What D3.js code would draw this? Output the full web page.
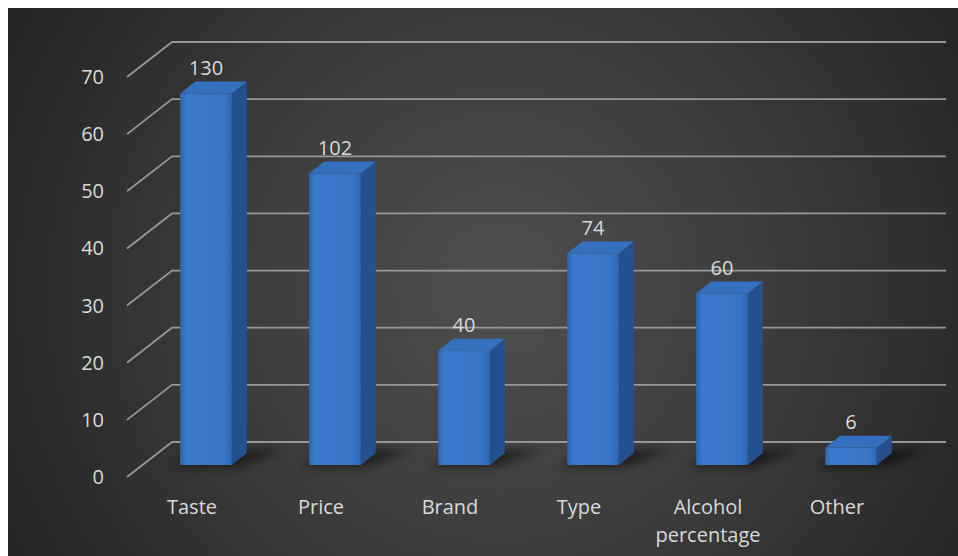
<!DOCTYPE html>
<html>
<head>
<meta charset="utf-8">
<script src="https://cdn.jsdelivr.net/npm/d3@7"></script>
<style>
  html, body { margin: 0; padding: 0; background: #fff; }
  svg { display: block; }
</style>
</head>
<body>
<svg id="chart" width="958" height="556"></svg>
<script>
// ---- data ----
const categories = ["Taste", "Price", "Brand", "Type", "Alcohol percentage", "Other"];
const barHeights = [65, 51, 20, 37, 30, 3];          // plotted on the 0–70 axis
const dataLabels = ["130", "102", "40", "74", "60", "6"]; // labels shown above bars
const yTicks = [0, 10, 20, 30, 40, 50, 60, 70];

// ---- layout ----
const W = 958, H = 556;
const svg = d3.select("#chart");
const defs = svg.append("defs");

const bg = defs.append("radialGradient").attr("id", "bg")
  .attr("gradientUnits", "userSpaceOnUse")
  .attr("cx", 500).attr("cy", 290).attr("r", 560);
bg.append("stop").attr("offset", "0%").attr("stop-color", "#4f4f4f");
bg.append("stop").attr("offset", "55%").attr("stop-color", "#393939");
bg.append("stop").attr("offset", "100%").attr("stop-color", "#232323");

const front = defs.append("linearGradient").attr("id", "front")
  .attr("x1", 0).attr("x2", 1).attr("y1", 0).attr("y2", 0);
front.append("stop").attr("offset", "0%").attr("stop-color", "#2f66b0");
front.append("stop").attr("offset", "12%").attr("stop-color", "#3a79cb");
front.append("stop").attr("offset", "85%").attr("stop-color", "#3775c6");
front.append("stop").attr("offset", "100%").attr("stop-color", "#2e67b3");

const shadow = defs.append("filter").attr("id", "shadow")
  .attr("x", "-50%").attr("y", "-50%").attr("width", "200%").attr("height", "200%");
shadow.append("feGaussianBlur").attr("stdDeviation", 5);

svg.append("rect").attr("width", W).attr("height", H).attr("fill", "#fff");
svg.append("rect").attr("x", 8).attr("y", 8).attr("width", W - 8).attr("height", H - 8).attr("fill", "url(#bg)");

// scales
const y = d3.scaleLinear().domain([0, 70]).range([465, 65]);
const x = d3.scaleBand().domain(categories).range([141.5, 915.5])
  .paddingInner(0.6).paddingOuter(0.3);

const backOff = -23;   // back wall offset from bar front plane
const frontOff = 12;   // floor front edge offset
const diagX0 = 127, wallX0 = 172, wallX1 = 946;
const dx = 15, dy = -12; // bar depth

const textColor = "#d9d9d9";
const gridColor = "#979797";

// gridlines
const grid = svg.append("g");
yTicks.forEach(t => {
  const yb = y(t) + backOff, yf = y(t) + frontOff;
  grid.append("path")
    .attr("d", `M${diagX0},${yf}L${wallX0},${yb}L${wallX1},${yb}`)
    .attr("fill", "none").attr("stroke", gridColor).attr("stroke-width", 1.8);
});

// y axis labels
svg.append("g").selectAll("text").data(yTicks).join("text")
  .attr("x", 104).attr("y", d => y(d) + frontOff + 7)
  .attr("text-anchor", "end")
  .attr("font-family", "Open Sans, sans-serif").attr("font-size", 20)
  .attr("fill", textColor).text(d => d);

// bars
const bars = svg.append("g");
categories.forEach((c, i) => {
  const x0 = x(c), x1 = x0 + x.bandwidth();
  const yb = y(0), yt = y(barHeights[i]);
  const g = bars.append("g");
  // floor shadow
  g.append("path")
    .attr("d", `M${x0 - 8},${yb + 2}L${x1 + 6},${yb + 2}L${x1 + dx + 36},${yb + dy - 3}L${x0 + dx + 4},${yb + dy - 3}Z`)
    .attr("fill", "#000").attr("opacity", 0.5).attr("filter", "url(#shadow)");
  // side face
  g.append("path")
    .attr("d", `M${x1},${yt}L${x1 + dx},${yt + dy}L${x1 + dx},${yb + dy}L${x1},${yb}Z`)
    .attr("fill", "#24508e");
  // top face
  g.append("path")
    .attr("d", `M${x0},${yt}L${x1},${yt}L${x1 + dx},${yt + dy}L${x0 + dx},${yt + dy}Z`)
    .attr("fill", "#3570bf");
  // front face
  g.append("rect").attr("x", x0).attr("y", yt)
    .attr("width", x1 - x0).attr("height", yb - yt)
    .attr("fill", "url(#front)");
  // data label
  g.append("text")
    .attr("x", (x0 + x1) / 2).attr("y", yt + dy - 7)
    .attr("text-anchor", "middle")
    .attr("font-family", "Open Sans, sans-serif").attr("font-size", 20)
    .attr("fill", textColor).text(dataLabels[i]);
});

// category labels
const cat = svg.append("g");
categories.forEach(c => {
  const cx = x(c) + x.bandwidth() / 2 - 14;
  const words = c === "Alcohol percentage" ? ["Alcohol", "percentage"] : [c];
  const t = cat.append("text")
    .attr("x", cx).attr("y", 514)
    .attr("text-anchor", "middle")
    .attr("font-family", "Open Sans, sans-serif").attr("font-size", 20)
    .attr("fill", textColor);
  words.forEach((w, k) => {
    t.append("tspan").attr("x", cx).attr("dy", k === 0 ? 0 : 28).text(w);
  });
});
</script>
</body>
</html>
